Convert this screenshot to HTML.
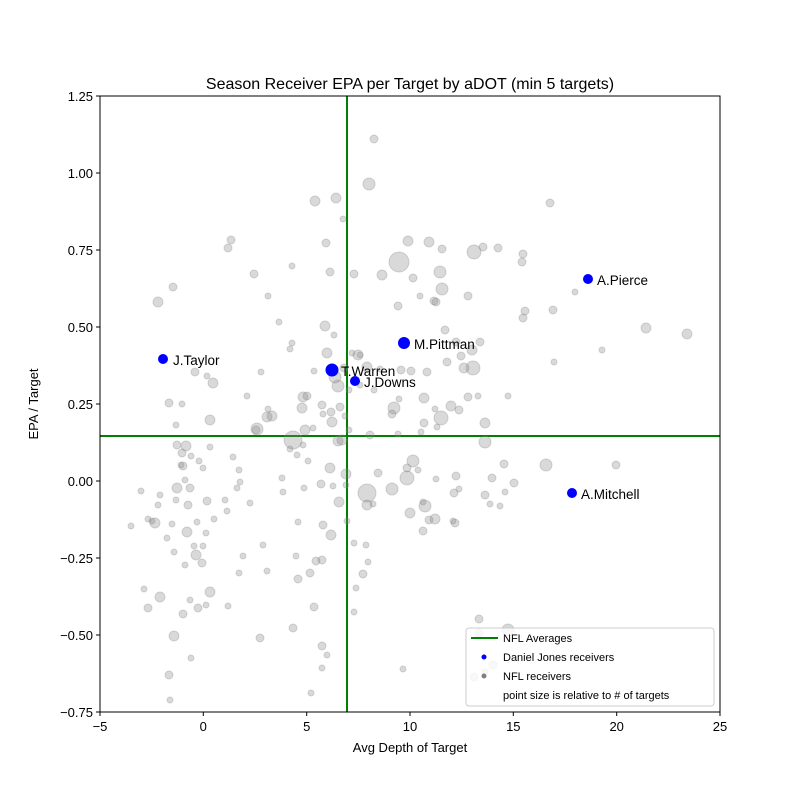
<!DOCTYPE html>
<html><head><meta charset="utf-8"><style>body{margin:0;background:#fff}svg{display:block;font-family:"Liberation Sans","DejaVu Sans",sans-serif}</style></head>
<body>
<svg width="800" height="800" viewBox="0 0 800 800" xmlns="http://www.w3.org/2000/svg">
<rect width="800" height="800" fill="#fff"/>
<text x="410" y="89" font-size="16" text-anchor="middle">Season Receiver EPA per Target by aDOT (min 5 targets)</text>
<line x1="347" y1="96" x2="347" y2="712" stroke="#008000" stroke-width="2"/>
<line x1="100" y1="436" x2="720" y2="436" stroke="#008000" stroke-width="2"/>
<g fill="#808080" fill-opacity="0.3" stroke="#808080" stroke-opacity="0.3">
<circle cx="374" cy="139" r="4"/><circle cx="369" cy="184" r="6"/><circle cx="336" cy="198" r="5"/><circle cx="315" cy="201" r="5"/><circle cx="343" cy="219" r="3"/><circle cx="550" cy="203" r="4"/><circle cx="498" cy="248" r="4"/><circle cx="474" cy="252" r="7"/><circle cx="408" cy="241" r="5"/><circle cx="429" cy="242" r="5"/><circle cx="442" cy="249" r="4"/><circle cx="483" cy="247" r="4"/><circle cx="523" cy="254" r="4"/><circle cx="522" cy="262" r="4"/><circle cx="399" cy="262" r="10"/><circle cx="382" cy="275" r="5"/><circle cx="413" cy="278" r="4"/><circle cx="440" cy="272" r="6"/><circle cx="442" cy="289" r="6"/><circle cx="468" cy="296" r="4"/><circle cx="354" cy="274" r="4"/><circle cx="330" cy="272" r="4"/><circle cx="326" cy="243" r="4"/><circle cx="228" cy="248" r="4"/><circle cx="231" cy="240" r="4"/><circle cx="254" cy="274" r="4"/><circle cx="292" cy="266" r="3"/><circle cx="158" cy="302" r="5"/><circle cx="173" cy="287" r="4"/><circle cx="268" cy="296" r="3"/><circle cx="279" cy="322" r="3"/><circle cx="325" cy="326" r="5"/><circle cx="334" cy="335" r="3"/><circle cx="290" cy="349" r="3"/><circle cx="434" cy="301" r="4"/><circle cx="398" cy="306" r="4"/><circle cx="420" cy="296" r="3"/><circle cx="436" cy="302" r="4"/><circle cx="480" cy="342" r="4"/><circle cx="523" cy="318" r="4"/><circle cx="553" cy="310" r="4"/><circle cx="525" cy="311" r="4"/><circle cx="575" cy="292" r="3"/><circle cx="646" cy="328" r="5"/><circle cx="687" cy="334" r="5"/><circle cx="602" cy="350" r="3"/><circle cx="554" cy="362" r="3"/><circle cx="445" cy="330" r="4"/><circle cx="456" cy="342" r="4"/><circle cx="472" cy="350" r="5"/><circle cx="464" cy="368" r="5"/><circle cx="473" cy="368" r="7"/><circle cx="461" cy="356" r="4"/><circle cx="447" cy="362" r="4"/><circle cx="427" cy="372" r="4"/><circle cx="411" cy="371" r="4"/><circle cx="401" cy="370" r="4"/><circle cx="367" cy="367" r="5"/><circle cx="352" cy="353" r="3"/><circle cx="358" cy="355" r="5"/><circle cx="344" cy="368" r="4"/><circle cx="314" cy="371" r="3"/><circle cx="327" cy="353" r="5"/><circle cx="335" cy="377" r="6"/><circle cx="338" cy="386" r="6"/><circle cx="360" cy="355" r="3"/><circle cx="380" cy="369" r="3"/><circle cx="340" cy="407" r="4"/><circle cx="349" cy="390" r="3"/><circle cx="360" cy="385" r="3"/><circle cx="374" cy="390" r="3"/><circle cx="424" cy="398" r="5"/><circle cx="435" cy="409" r="3"/><circle cx="451" cy="406" r="5"/><circle cx="399" cy="399" r="3"/><circle cx="394" cy="408" r="6"/><circle cx="392" cy="414" r="4"/><circle cx="398" cy="434" r="3"/><circle cx="459" cy="410" r="4"/><circle cx="468" cy="397" r="4"/><circle cx="478" cy="396" r="3"/><circle cx="508" cy="396" r="3"/><circle cx="485" cy="423" r="5"/><circle cx="424" cy="423" r="4"/><circle cx="421" cy="432" r="3"/><circle cx="437" cy="427" r="3"/><circle cx="441" cy="418" r="7"/><circle cx="345" cy="416" r="3"/><circle cx="349" cy="430" r="3"/><circle cx="331" cy="412" r="4"/><circle cx="322" cy="405" r="4"/><circle cx="332" cy="422" r="5"/><circle cx="303" cy="397" r="5"/><circle cx="302" cy="408" r="5"/><circle cx="305" cy="430" r="5"/><circle cx="293" cy="440" r="9"/><circle cx="290" cy="449" r="3"/><circle cx="257" cy="429" r="6"/><circle cx="267" cy="417" r="5"/><circle cx="297" cy="455" r="3"/><circle cx="313" cy="428" r="3"/><circle cx="370" cy="435" r="4"/><circle cx="342" cy="440" r="5"/><circle cx="323" cy="414" r="3"/><circle cx="338" cy="441" r="5"/><circle cx="413" cy="461" r="6"/><circle cx="418" cy="470" r="3"/><circle cx="378" cy="473" r="4"/><circle cx="308" cy="461" r="3"/><circle cx="330" cy="468" r="5"/><circle cx="321" cy="484" r="4"/><circle cx="339" cy="502" r="5"/><circle cx="346" cy="474" r="5"/><circle cx="346" cy="485" r="3"/><circle cx="367" cy="493" r="9"/><circle cx="392" cy="489" r="6"/><circle cx="407" cy="478" r="7"/><circle cx="407" cy="468" r="4"/><circle cx="410" cy="513" r="5"/><circle cx="425" cy="506" r="6"/><circle cx="429" cy="520" r="4"/><circle cx="435" cy="519" r="5"/><circle cx="456" cy="476" r="4"/><circle cx="459" cy="489" r="3"/><circle cx="454" cy="493" r="4"/><circle cx="436" cy="479" r="3"/><circle cx="485" cy="495" r="4"/><circle cx="490" cy="504" r="3"/><circle cx="485" cy="442" r="6"/><circle cx="504" cy="464" r="4"/><circle cx="514" cy="483" r="4"/><circle cx="492" cy="478" r="4"/><circle cx="505" cy="492" r="3"/><circle cx="500" cy="506" r="3"/><circle cx="546" cy="465" r="6"/><circle cx="616" cy="465" r="4"/><circle cx="455" cy="523" r="4"/><circle cx="423" cy="531" r="4"/><circle cx="453" cy="521" r="3"/><circle cx="423" cy="502" r="3"/><circle cx="367" cy="505" r="5"/><circle cx="373" cy="504" r="3"/><circle cx="366" cy="545" r="3"/><circle cx="368" cy="562" r="3"/><circle cx="354" cy="543" r="3"/><circle cx="363" cy="574" r="4"/><circle cx="333" cy="486" r="3"/><circle cx="316" cy="561" r="4"/><circle cx="331" cy="535" r="5"/><circle cx="323" cy="525" r="4"/><circle cx="322" cy="560" r="4"/><circle cx="314" cy="607" r="4"/><circle cx="311" cy="693" r="3"/><circle cx="322" cy="646" r="4"/><circle cx="322" cy="668" r="3"/><circle cx="327" cy="655" r="3"/><circle cx="310" cy="573" r="4"/><circle cx="298" cy="579" r="4"/><circle cx="293" cy="628" r="4"/><circle cx="296" cy="556" r="3"/><circle cx="298" cy="522" r="3"/><circle cx="304" cy="488" r="3"/><circle cx="283" cy="492" r="3"/><circle cx="250" cy="503" r="3"/><circle cx="240" cy="482" r="3"/><circle cx="239" cy="470" r="3"/><circle cx="233" cy="457" r="3"/><circle cx="237" cy="488" r="3"/><circle cx="225" cy="500" r="3"/><circle cx="227" cy="511" r="3"/><circle cx="207" cy="501" r="4"/><circle cx="214" cy="519" r="3"/><circle cx="206" cy="533" r="3"/><circle cx="194" cy="546" r="3"/><circle cx="190" cy="488" r="4"/><circle cx="185" cy="480" r="3"/><circle cx="181" cy="465" r="3"/><circle cx="177" cy="488" r="5"/><circle cx="160" cy="495" r="3"/><circle cx="141" cy="491" r="3"/><circle cx="148" cy="519" r="3"/><circle cx="155" cy="523" r="5"/><circle cx="158" cy="505" r="3"/><circle cx="167" cy="538" r="3"/><circle cx="187" cy="532" r="5"/><circle cx="196" cy="555" r="5"/><circle cx="202" cy="563" r="4"/><circle cx="203" cy="546" r="3"/><circle cx="210" cy="592" r="5"/><circle cx="206" cy="605" r="3"/><circle cx="198" cy="608" r="4"/><circle cx="191" cy="658" r="3"/><circle cx="190" cy="600" r="3"/><circle cx="174" cy="636" r="5"/><circle cx="183" cy="614" r="4"/><circle cx="185" cy="565" r="3"/><circle cx="174" cy="552" r="3"/><circle cx="172" cy="524" r="3"/><circle cx="152" cy="521" r="3"/><circle cx="148" cy="608" r="4"/><circle cx="131" cy="526" r="3"/><circle cx="170" cy="700" r="3"/><circle cx="169" cy="675" r="4"/><circle cx="144" cy="589" r="3"/><circle cx="160" cy="597" r="5"/><circle cx="263" cy="545" r="3"/><circle cx="267" cy="571" r="3"/><circle cx="260" cy="638" r="4"/><circle cx="228" cy="606" r="3"/><circle cx="239" cy="573" r="3"/><circle cx="243" cy="556" r="3"/><circle cx="177" cy="445" r="4"/><circle cx="186" cy="446" r="5"/><circle cx="191" cy="456" r="3"/><circle cx="199" cy="461" r="3"/><circle cx="203" cy="468" r="3"/><circle cx="210" cy="447" r="3"/><circle cx="197" cy="522" r="3"/><circle cx="188" cy="505" r="4"/><circle cx="183" cy="466" r="4"/><circle cx="169" cy="403" r="4"/><circle cx="182" cy="404" r="3"/><circle cx="195" cy="372" r="4"/><circle cx="207" cy="376" r="3"/><circle cx="213" cy="383" r="5"/><circle cx="176" cy="425" r="3"/><circle cx="210" cy="420" r="5"/><circle cx="176" cy="500" r="3"/><circle cx="182" cy="453" r="4"/><circle cx="256" cy="430" r="4"/><circle cx="268" cy="409" r="3"/><circle cx="272" cy="416" r="5"/><circle cx="247" cy="396" r="3"/><circle cx="261" cy="372" r="3"/><circle cx="292" cy="343" r="3"/><circle cx="307" cy="396" r="4"/><circle cx="303" cy="445" r="3"/><circle cx="282" cy="478" r="3"/><circle cx="479" cy="633" r="4"/><circle cx="493" cy="665" r="4"/><circle cx="479" cy="619" r="4"/><circle cx="508" cy="630" r="6"/><circle cx="485" cy="672" r="3"/><circle cx="474" cy="677" r="4"/><circle cx="403" cy="669" r="3"/><circle cx="347" cy="521" r="3"/><circle cx="354" cy="612" r="3"/><circle cx="356" cy="588" r="3"/>
</g>
<g fill="#0000ff">
<circle cx="588" cy="279" r="5"/><circle cx="163" cy="359" r="5"/><circle cx="404" cy="343" r="6"/>
<circle cx="332" cy="370" r="6.5"/><circle cx="355" cy="381" r="5"/><circle cx="572" cy="493" r="5"/>
</g>
<g font-size="13.5">
<text x="597" y="285">A.Pierce</text><text x="173" y="365">J.Taylor</text><text x="414" y="349">M.Pittman</text>
<text x="341" y="376">T.Warren</text><text x="364" y="387">J.Downs</text><text x="581" y="499">A.Mitchell</text>
</g>
<rect x="100" y="96" width="620" height="616" fill="none" stroke="#000" stroke-width="1"/>
<g stroke="#000">
<line x1="100" y1="712" x2="100" y2="716"/><line x1="203.3" y1="712" x2="203.3" y2="716"/><line x1="306.7" y1="712" x2="306.7" y2="716"/><line x1="410" y1="712" x2="410" y2="716"/><line x1="513.3" y1="712" x2="513.3" y2="716"/><line x1="616.7" y1="712" x2="616.7" y2="716"/><line x1="720" y1="712" x2="720" y2="716"/>
<line x1="96" y1="96" x2="100" y2="96"/><line x1="96" y1="173" x2="100" y2="173"/><line x1="96" y1="250" x2="100" y2="250"/><line x1="96" y1="327" x2="100" y2="327"/><line x1="96" y1="404" x2="100" y2="404"/><line x1="96" y1="481" x2="100" y2="481"/><line x1="96" y1="558" x2="100" y2="558"/><line x1="96" y1="635" x2="100" y2="635"/><line x1="96" y1="712" x2="100" y2="712"/>
</g>
<g font-size="13" text-anchor="middle">
<text x="100" y="731">−5</text><text x="203.3" y="731">0</text><text x="306.7" y="731">5</text><text x="410" y="731">10</text><text x="513.3" y="731">15</text><text x="616.7" y="731">20</text><text x="720" y="731">25</text>
<text x="410" y="752">Avg Depth of Target</text>
</g>
<g font-size="13" text-anchor="end">
<text x="93" y="101">1.25</text><text x="93" y="178">1.00</text><text x="93" y="255">0.75</text><text x="93" y="332">0.50</text><text x="93" y="409">0.25</text><text x="93" y="486">0.00</text><text x="93" y="563">−0.25</text><text x="93" y="640">−0.50</text><text x="93" y="717">−0.75</text>
</g>
<text transform="translate(38,404) rotate(-90)" font-size="13" text-anchor="middle">EPA / Target</text>
<rect x="466" y="628" width="248" height="78" rx="3" fill="#fff" fill-opacity="0.8" stroke="#ccc"/>
<line x1="471" y1="638" x2="498" y2="638" stroke="#008000" stroke-width="2"/>
<circle cx="484" cy="657" r="2.5" fill="#0000ff"/>
<circle cx="484" cy="676" r="2.5" fill="#808080"/>
<g font-size="11"><text x="503" y="642">NFL Averages</text><text x="503" y="661">Daniel Jones receivers</text><text x="503" y="680">NFL receivers</text><text x="503" y="699">point size is relative to # of targets</text></g>
</svg>
</body></html>
